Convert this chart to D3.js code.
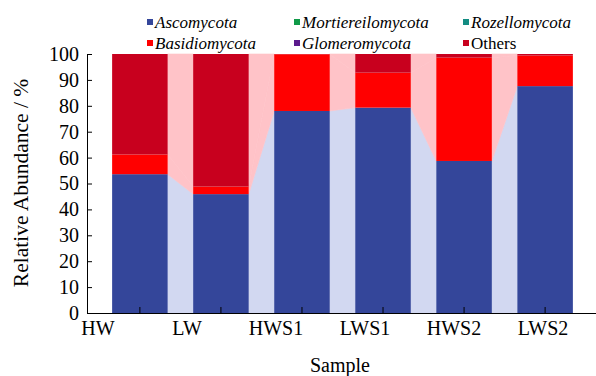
<!DOCTYPE html>
<html>
<head>
<meta charset="utf-8">
<script src="https://cdn.jsdelivr.net/npm/d3@7"></script>
<style>
    body { margin: 0; background: #fff; }
    svg text { font-family: "Liberation Serif", "DejaVu Serif", serif; }
</style>
</head>
<body>
<div id="chart"></div>
<script>
const samples = ["HW", "LW", "HWS1", "LWS1", "HWS2", "LWS2"];
const phyla = ["Ascomycota", "Basidiomycota", "Mortiereilomycota", "Glomeromycota", "Rozellomycota", "Others"];
const ascomycota = [53.6, 45.9, 78.0, 79.3, 58.7, 87.6];
const basidiomycota = [7.6, 2.9, 21.9, 13.5, 39.9, 11.8];
const mortiereilomycota = [0, 0, 0, 0, 0, 0];
const glomeromycota = [0, 0, 0, 0, 0, 0];
const rozellomycota = [0, 0, 0, 0, 0, 0];
const others = [38.8, 51.2, 0.1, 7.2, 1.4, 0.6];
const yTicks = [0, 10, 20, 30, 40, 50, 60, 70, 80, 90, 100];

const colors = {
    Ascomycota: "#34469a",
    Basidiomycota: "#ff0000",
    Mortiereilomycota: "#109a48",
    Glomeromycota: "#5b1a8c",
    Rozellomycota: "#138c82",
    Others: "#c8001e"
};
const linkColors = {
    Ascomycota: "#d2d8f1",
    Basidiomycota: "#ffc3c8",
    Mortiereilomycota: "#c4e8d2",
    Glomeromycota: "#dccbe8",
    Rozellomycota: "#c4e4e1",
    Others: "#ffc3c8"
};

const width = 596, height = 376;
const rows = samples.map((s, i) => ({
    sample: s,
    Ascomycota: ascomycota[i],
    Basidiomycota: basidiomycota[i],
    Mortiereilomycota: mortiereilomycota[i],
    Glomeromycota: glomeromycota[i],
    Rozellomycota: rozellomycota[i],
    Others: others[i]
}));

const series = d3.stack().keys(phyla)(rows);

const x = d3.scaleBand()
    .domain(samples)
    .range([87, 598])
    .paddingInner(0.315)
    .paddingOuter(0.31);
const xLabel = d3.scalePoint()
    .domain(samples)
    .range([98, 543]);
const y = d3.scaleLinear()
    .domain([0, 100])
    .range([313, 54]);

const svg = d3.select("#chart").append("svg")
    .attr("width", width)
    .attr("height", height);

// connectors between neighbouring bars
const link = d3.area()
    .x(d => d.x)
    .y0(d => y(d.y0))
    .y1(d => y(d.y1));

series.forEach(layer => {
    if (d3.max(layer, d => d[1] - d[0]) <= 0) return;
    const g = svg.append("g")
        .attr("fill", linkColors[layer.key])
        .attr("stroke", linkColors[layer.key])
        .attr("stroke-width", 0.6);
    for (let i = 0; i < layer.length - 1; i++) {
        const a = layer[i], b = layer[i + 1];
        const pts = [
            { x: x(samples[i]) + x.bandwidth(), y0: a[0], y1: a[1] },
            { x: x(samples[i + 1]), y0: b[0], y1: b[1] }
        ];
        g.append("path").attr("d", link(pts));
    }
});

// bars
svg.append("g")
    .selectAll("g")
    .data(series)
    .join("g")
    .attr("fill", d => colors[d.key])
    .selectAll("rect")
    .data(d => d)
    .join("rect")
    .attr("x", d => x(d.data.sample))
    .attr("y", d => y(d[1]))
    .attr("width", x.bandwidth())
    .attr("height", d => Math.max(0, y(d[0]) - y(d[1])));

// y axis
const yAxis = svg.append("g")
    .attr("transform", "translate(87,0)")
    .call(d3.axisLeft(y).tickValues(yTicks).tickSizeInner(-5).tickSizeOuter(0).tickPadding(8));
yAxis.attr("font-family", null);
yAxis.select(".domain").attr("stroke", "#000");
yAxis.selectAll("text").attr("font-size", 20).attr("fill", "#000");

// x axis
const xAxis = svg.append("g")
    .attr("transform", "translate(0,313)")
    .call(d3.axisBottom(x).tickSizeInner(-6).tickSizeOuter(0).tickFormat(""));
xAxis.select(".domain").attr("stroke", "#000");

svg.append("g")
    .selectAll("text")
    .data(samples)
    .join("text")
    .attr("x", d => xLabel(d))
    .attr("y", 335)
    .attr("text-anchor", "middle")
    .attr("font-size", 20)
    .text(d => d);

// axis titles
svg.append("text")
    .attr("x", 340)
    .attr("y", 372)
    .attr("text-anchor", "middle")
    .attr("font-size", 20)
    .text("Sample");

svg.append("text")
    .attr("transform", "translate(28,183) rotate(-90)")
    .attr("text-anchor", "middle")
    .attr("font-size", 21.5)
    .text("Relative Abundance / %");

// legend
const legendItems = [
    { key: "Ascomycota", x: 147, y: 22 },
    { key: "Mortiereilomycota", x: 294, y: 22 },
    { key: "Rozellomycota", x: 463, y: 22 },
    { key: "Basidiomycota", x: 147, y: 43 },
    { key: "Glomeromycota", x: 294, y: 43 },
    { key: "Others", x: 463, y: 43 }
];
const legend = svg.append("g")
    .selectAll("g")
    .data(legendItems)
    .join("g")
    .attr("transform", d => `translate(${d.x},${d.y})`);
legend.append("rect")
    .attr("x", 0)
    .attr("y", -3)
    .attr("width", 6)
    .attr("height", 6)
    .attr("fill", d => colors[d.key]);
legend.append("text")
    .attr("x", 8)
    .attr("dy", "0.35em")
    .attr("font-size", 17)
    .attr("font-style", d => d.key == "Others" ? "normal" : "italic")
    .text(d => d.key);
</script>
</body>
</html>
